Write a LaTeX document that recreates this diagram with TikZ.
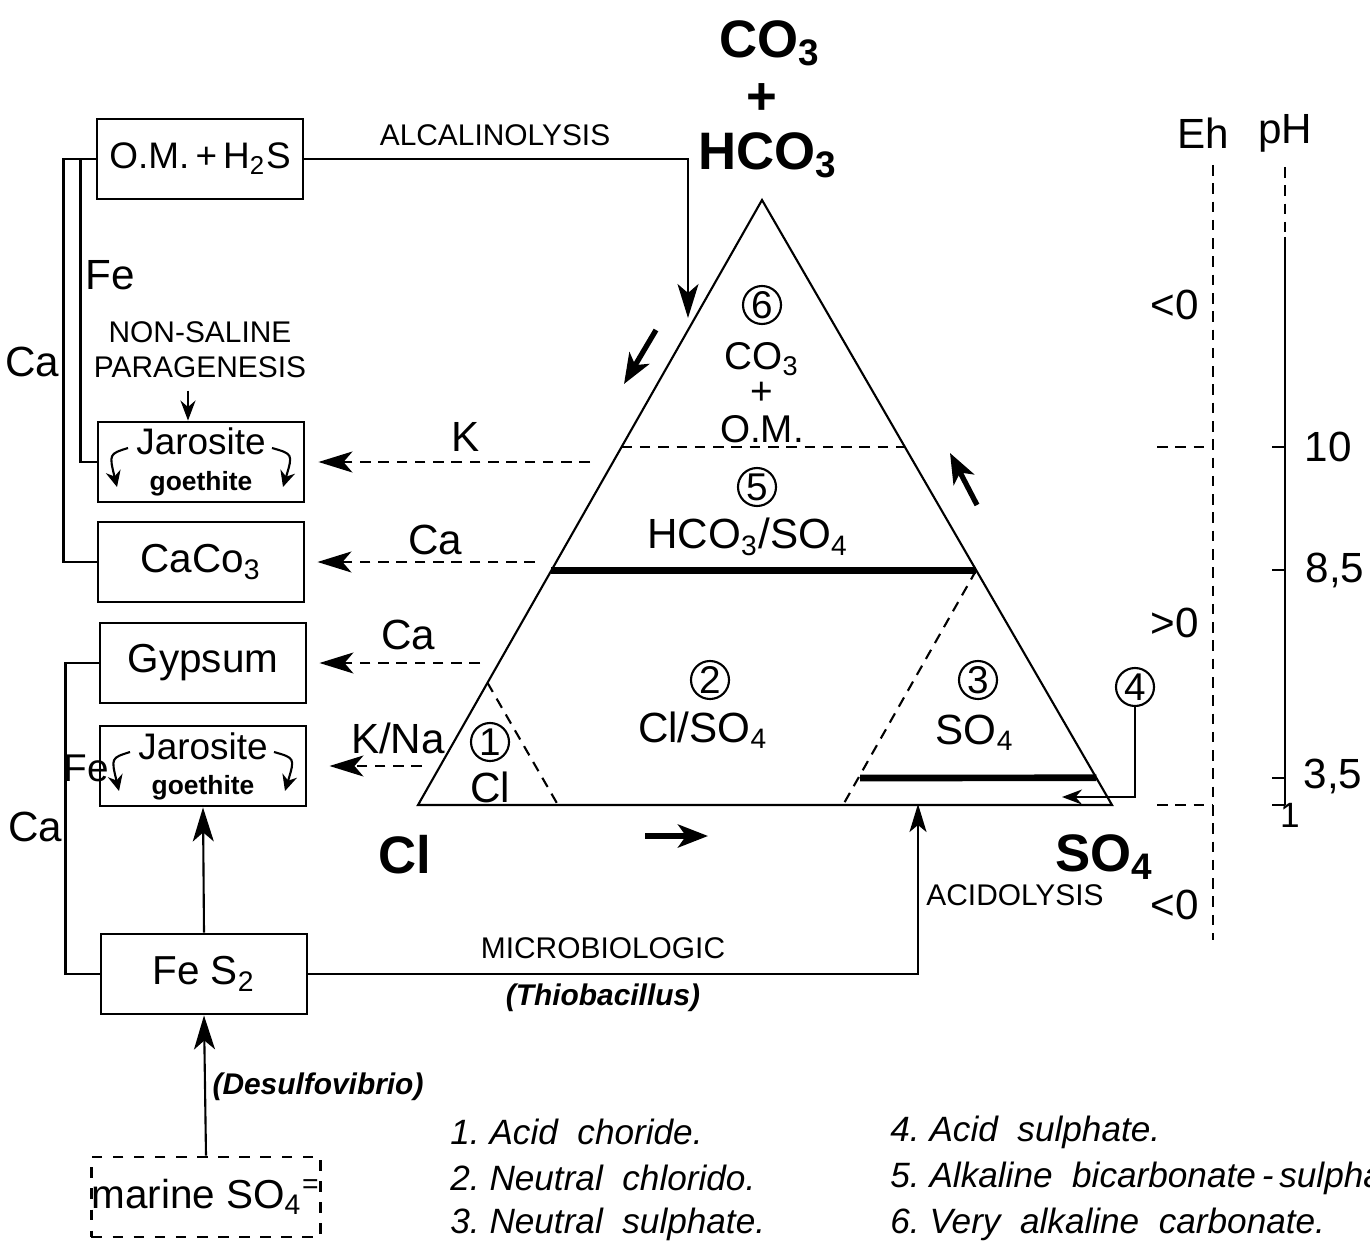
\documentclass[tikz,border=0pt]{standalone}
\usepackage{fontspec}
\setmainfont{Liberation Sans}
\usetikzlibrary{arrows.meta,calc}
\begin{document}
\begin{tikzpicture}[x=0.01cm, y=-0.01cm, >={Stealth[length=3.4mm,width=2.1mm,inset=0.9mm]},
  every node/.style={font=\fontsize{12}{13}\selectfont}]
  \tikzstyle{mybox}=[draw,thick,minimum width=2.06cm,minimum height=0.8cm,inner sep=0pt,align=center,font=\fontsize{11.5}{12}\selectfont]
  \tikzstyle{num}=[draw,circle,semithick,inner sep=0pt,minimum size=0.38cm,font=\fontsize{11}{11}\selectfont]
  \tikzstyle{caps}=[font=\fontsize{8.5}{10}\selectfont]
  \tikzstyle{capsit}=[font=\fontsize{8.5}{10}\selectfont\bfseries\itshape]
  \tikzstyle{big}=[font=\fontsize{15}{15}\selectfont\bfseries,inner sep=1pt]
  \tikzstyle{inner}=[font=\fontsize{11}{11}\selectfont,inner sep=1pt]
  \tikzstyle{dashline}=[dash pattern=on 3pt off 2.2pt]
  \tikzstyle{legend}=[anchor=west,font=\fontsize{10}{11}\selectfont\itshape]
  \tikzstyle{smalltip}=[-{Stealth[length=2mm,width=1.5mm]}]
  \useasboundingbox (0,0) rectangle (1370,1243);

  % boxes on the left
  \node[mybox,font=\fontsize{10.5}{11}\selectfont] (om) at (200,159) {O.M.\,+\,H\textsubscript{2}S};
  \node[mybox] (jarA) at (201,462) {{\fontsize{10.5}{10}\selectfont Jarosite}\\[-2pt]{\fontsize{7.5}{8}\selectfont\bfseries goethite}};
  \node[mybox] (caco) at (201,562) {CaCo\textsubscript{3}};
  \node[mybox] (gyp) at (203,663) {Gypsum};
  \node[mybox] (jarB) at (203,766) {{\fontsize{10.5}{10}\selectfont Jarosite}\\[-2pt]{\fontsize{7.5}{8}\selectfont\bfseries goethite}};
  \node[mybox] (fes) at (204,974) {Fe S\textsubscript{2}};
  \node[mybox,dashed] (sea) at (206,1197) {marine SO\textsubscript{4}\textsuperscript{=}};

  \foreach \j in {jarA,jarB} {
    \draw[semithick,-{Stealth[length=1.6mm,width=1.5mm]}] ([shift={(-73,-14)}]\j.center) .. controls ([shift={(-92,-8)}]\j.center) .. ([shift={(-84,25)}]\j.center);
    \draw[semithick,-{Stealth[length=1.6mm,width=1.5mm]}] ([shift={(71,-14)}]\j.center) .. controls ([shift={(92,-8)}]\j.center) .. ([shift={(82,25)}]\j.center);
  }

  \node[caps,align=center] (nsp) at (200,350) {NON-SALINE\\PARAGENESIS};
  \coordinate (nsa) at (188,0);
  \draw[semithick,smalltip] (nsp.south -| nsa) -- (jarA.north -| nsa);

  \draw[semithick] (om.west) -- ++(-32,0) |- (caco.west);
  \draw[semithick] (om.west) -- ++(-15,0) |- (jarA.west);
  \draw[semithick] (gyp.west) -- ++(-33,0) |- (fes.west);
  \draw[semithick,->] (fes.north) -- (jarB.south);
  \draw[semithick,->] (sea.north) -- (fes.south);
  \node at (110,275) {Fe};
  \node at (32,362) {Ca};
  \node[font=\fontsize{11}{11}\selectfont,inner sep=0pt] at (86,768) {Fe};
  \node at (35,827) {Ca};
  \node[capsit] at (318,1087) {(Desulfovibrio)};

  % triangle
  \coordinate (cl) at (418,805);
  \coordinate (so) at (1112,805);
  \coordinate (co) at (762,200);
  \draw[semithick] (cl) -- (co) -- (so) -- cycle;
  \draw[semithick,dashline] ($(cl)!0.592!(co)$) -- ($(so)!0.592!(co)$);
  \draw[line width=1.9pt] ($(cl)!0.388!(co)$) -- ($(so)!0.388!(co)$);
  \draw[line width=1.9pt] (860,778) -- ($(so)!0.045!(co)$);
  \draw[semithick,dashline] ($(cl)!0.202!(co)$) -- (558,805);
  \draw[semithick,dashline] ($(so)!0.388!(co)$) -- (843,805);

  \node[big] (lco) at (770,43) {CO\textsubscript{3}};
  \node[big] (lplus) at (762,99) {+};
  \node[big] (lhco) at (768,155) {HCO\textsubscript{3}};
  \node[big] (lcl) at (405,855) {Cl};
  \node[big] (lso) at (1105,857) {SO\textsubscript{4}};

  \node[num] (n6) at (762,305) {6};
  \node[inner] (t6) at (762,359) {CO\textsubscript{3}};
  \node[inner] at (762,393) {+};
  \node[inner] at (762,429) {O.M.};
  \node[num] (n5) at (757,487) {5};
  \node at (748,537) {HCO\textsubscript{3}/SO\textsubscript{4}};
  \node[num] (n2) at (710,680) {2};
  \node at (703,730) {Cl/SO\textsubscript{4}};
  \node[num] (n3) at (978,680) {3};
  \node at (975,733) {SO\textsubscript{4}};
  \node[num] (n1) at (490,742) {1};
  \node at (490,787) {Cl};
  \node[num] (n4) at (1135,687) {4};
  \coordinate (t4) at (1062,797);
  \draw[semithick,smalltip] (n4.south) |- (t4);

  \draw[line width=1.5pt,-{Stealth[length=3mm,width=2.3mm,inset=0.8mm]}] (656,330) -- (624,384);
  \draw[line width=1.5pt,-{Stealth[length=3mm,width=2.3mm,inset=0.8mm]}] (977,505) -- (950,453);
  \draw[line width=1.5pt,-{Stealth[length=3mm,width=2.3mm,inset=0.8mm]}] (645,836) -- (708,836);

  % alcalinolysis / acidolysis
  \coordinate (alk) at (688,318);
  \draw[semithick,->] (om.east) -| (alk);
  \node[caps] at (495,135) {ALCALINOLYSIS};
  \coordinate (acid) at (918,804);
  \draw[semithick,-{Stealth[length=2.8mm,width=1.7mm,inset=0.7mm]}] (fes.east) -| (acid);
  \node[caps] at (603,948) {MICROBIOLOGIC};
  \node[capsit] at (603,998) {(Thiobacillus)};
  \node[caps] at (1015,895) {ACIDOLYSIS};

  % exchanges towards the left
  \coordinate (kA) at (590,462);
  \coordinate (kB) at (535,562);
  \coordinate (kC) at (480,663);
  \coordinate (kD) at (422,766);
  \draw[semithick,dashline,->,shorten >=0.13cm] (kA) -- (jarA.east);
  \draw[semithick,dashline,->,shorten >=0.12cm] (kB) -- (caco.east);
  \draw[semithick,dashline,->,shorten >=0.12cm] (kC) -- (gyp.east);
  \draw[semithick,dashline,->,shorten >=0.22cm] (kD) -- (jarB.east);
  \node at (466,437) {K};
  \node at (435,540) {Ca};
  \node at (408,635) {Ca};
  \node at (398,738) {K/Na};

  % Eh and pH scales
  \node at (1203,133) {Eh};
  \node at (1285,133) {pH};
  \draw[semithick,dashline] (1213,165) -- (1213,940);
  \draw[semithick,dashline] (1157,447) -- (1213,447);
  \draw[semithick,dashline] (1157,805) -- (1213,805);
  \draw[semithick,dashline] (1285,167) -- (1285,237);
  \draw[semithick] (1285,237) -- (1285,805);
  \foreach \y in {447,570,778,805} \draw[semithick] (1272,\y) -- (1285,\y);
  \node at (1175,305) {<0};
  \node at (1175,623) {>0};
  \node at (1175,905) {<0};
  \node at (1328,447) {10};
  \node at (1335,570) {8,5};
  \node at (1333,776) {3,5};
  \node[font=\fontsize{10}{10}\selectfont] at (1290,815) {1};

  % legend
  \node[legend] (l1) at (438,1132) {1.\ Acid\ \ choride.};
  \node[legend] (l2) at (438,1178) {2.\ Neutral\ \ chlorido.};
  \node[legend] (l3) at (438,1224) {3.\ Neutral\ \ sulphate.};
  \node[legend] (l4) at (878,1132) {4.\ Acid\ \ sulphate.};
  \node[legend] (l5) at (878,1178) {5.\ Alkaline\ \ bicarbonate\,-\,sulphate.};
  \node[legend] (l6) at (878,1224) {6.\ Very\ \ alkaline\ \ carbonate.};
\end{tikzpicture}
\end{document}
